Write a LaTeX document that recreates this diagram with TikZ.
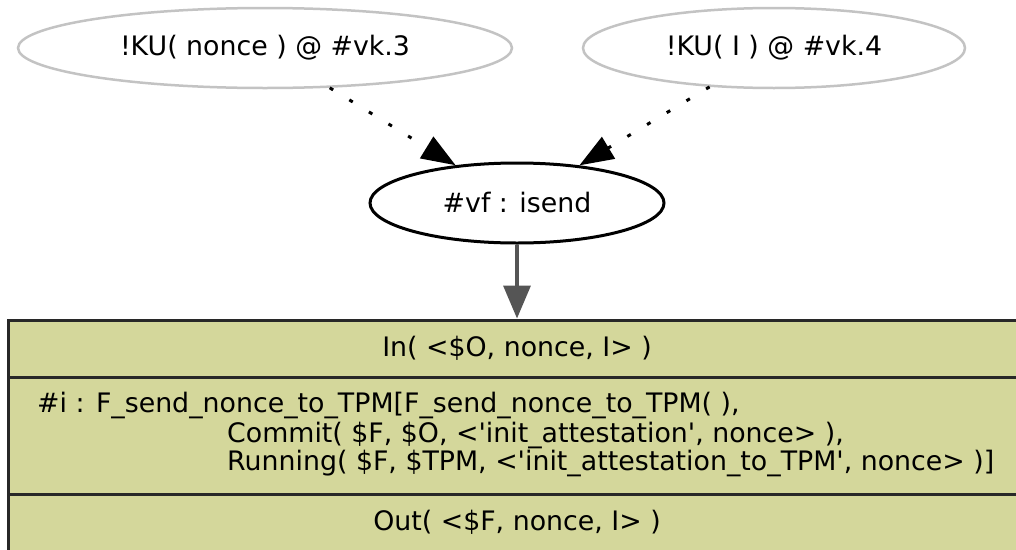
\documentclass[tikz,border=0pt]{standalone}
\usepackage{fontspec}
\setmainfont{DejaVu Sans}
\usetikzlibrary{shapes.geometric,arrows.meta}
\definecolor{recfill}{RGB}{212,215,155}
\definecolor{recline}{RGB}{40,40,40}
\definecolor{kuline}{RGB}{195,195,195}
\definecolor{edgegray}{RGB}{85,85,85}
\begin{document}
\begin{tikzpicture}[x=1pt,y=-1pt,
  lbl/.style={font=\fontsize{26.8}{29}\selectfont, text=black},
  kunode/.style={ellipse, draw=kuline, line width=2.5pt, inner sep=0pt, minimum height=80pt, lbl},
  rulenode/.style={ellipse, draw=black, line width=3pt, inner sep=0pt, minimum height=80pt, lbl},
  rowbox/.style={rectangle, draw=recline, fill=recfill, line width=3pt, inner sep=0pt, minimum width=1018pt, lbl},
  actline/.style={lbl, anchor=base west, inner sep=0pt},
  dotarrow/.style={draw=black, line width=3pt, dash pattern=on 4pt off 19pt, -{Triangle[length=34pt,width=25pt]}},
  solidarrow/.style={draw=edgegray, line width=3.5pt, -{Triangle[length=33pt,width=27pt]}}
]
\useasboundingbox (0,0) rectangle (1016,549);
\clip (0,0) rectangle (1016,549);

% knowledge facts and the rule instance
\node[kunode, minimum width=494pt] (kunonce) at (265,48) {!KU( nonce ) @ \#vk.3};
\node[kunode, minimum width=382pt] (kui) at (774,48) {!KU( I ) @ \#vk.4};
\node[rulenode, minimum width=294pt] (vf) at (517,203) {\#vf : isend};

% rule record: premises, action, conclusions
\node[rowbox, minimum height=57pt] (inrow) at (517,348.5) {In( <\$O, nonce, I> )};
\node[rowbox, minimum height=117pt] (actrow) at (517,435.5) {};
\node[rowbox, minimum height=57pt] (outrow) at (517,522.5) {Out( <\$F, nonce, I> )};

\node[actline] (act1) at (37,412) {\#i : F\_send\_nonce\_to\_TPM[F\_send\_nonce\_to\_TPM( ),};
\node[actline] (act2) at (227,442) {Commit( \$F, \$O, <\textquotesingle init\_attestation\textquotesingle, nonce> ),};
\node[actline] (act3) at (227,470) {Running( \$F, \$TPM, <\textquotesingle init\_attestation\_to\_TPM\textquotesingle, nonce> )]};

% edges
\draw[dotarrow] (kunonce) -- (vf);
\draw[dotarrow] (kui) -- (vf);
\draw[solidarrow] (vf) -- (inrow);
\end{tikzpicture}
\end{document}
